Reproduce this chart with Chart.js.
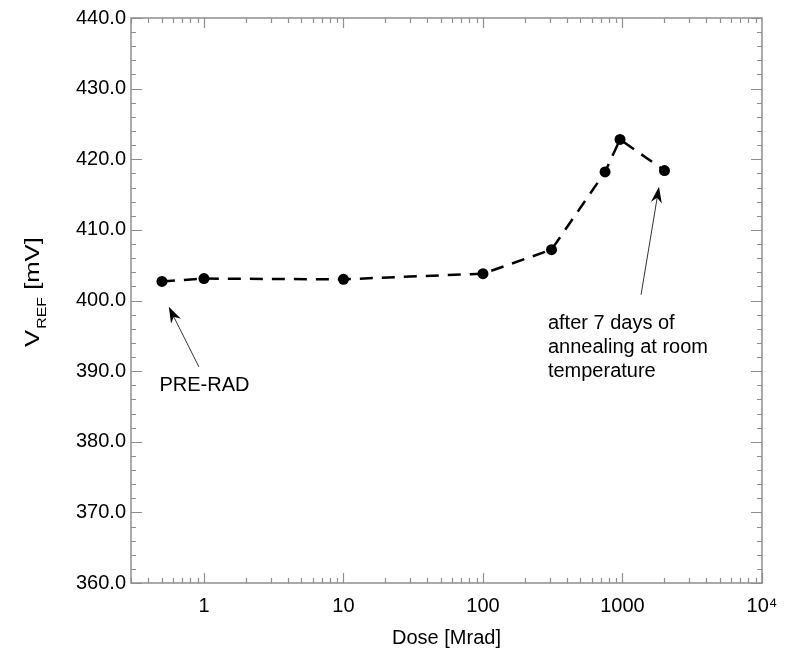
<!DOCTYPE html>
<html>
<head>
<meta charset="utf-8">
<script src="https://cdn.jsdelivr.net/npm/chart.js@4.4.1/dist/chart.umd.min.js"></script>
<style>
    html, body { margin: 0; padding: 0; background: #fff; }
    #wrap { width: 785px; height: 654px; }
</style>
</head>
<body>
<div id="wrap"><canvas id="vrefCanvas" width="785" height="654"></canvas></div>
<script>
// Datos
const doses = [0.5, 1, 10, 100, 310, 750, 960, 2000];
const vref = [402.7, 403.1, 403.0, 403.8, 407.2, 418.2, 422.8, 418.4];
const xTickValues = [1, 10, 100, 1000, 10000];
const xTickLabels = ['1', '10', '100', '1000', '10⁴'];
const yMin = 360, yMax = 440, yStep = 10, yMinorStep = 2;

const FONT = '"Liberation Sans", Arial, sans-serif';
const AXIS_GRAY = '#8e8e8e';

// Marcas hacia dentro en los cuatro lados + marco
const frameTicks = {
    id: 'frameTicks',
    afterDraw(chart) {
        const { ctx, chartArea: a, scales: { x, y } } = chart;
        ctx.save();
        ctx.strokeStyle = AXIS_GRAY;
        ctx.lineWidth = 1.5;
        ctx.strokeRect(a.left, a.top, a.right - a.left, a.bottom - a.top);
        ctx.lineWidth = 1.2;
        ctx.beginPath();
        // eje y
        for (let v = yMin; v <= yMax; v += yMinorStep) {
            const py = Math.round(y.getPixelForValue(v)) + 0.5;
            const len = (v % yStep === 0) ? 11 : 5;
            ctx.moveTo(a.left, py); ctx.lineTo(a.left + len, py);
            ctx.moveTo(a.right, py); ctx.lineTo(a.right - len, py);
        }
        // eje x (log)
        for (let dec = 0.1; dec <= 1000; dec *= 10) {
            for (let m = 1; m <= 9; m++) {
                const v = dec * m;
                if (v < x.min - 1e-9 || v > x.max) continue;
                const px = Math.round(x.getPixelForValue(v)) + 0.5;
                const len = (m === 1) ? 10 : 5;
                ctx.moveTo(px, a.bottom); ctx.lineTo(px, a.bottom - len);
                ctx.moveTo(px, a.top); ctx.lineTo(px, a.top + len);
            }
        }
        const pEnd = Math.round(x.getPixelForValue(10000)) + 0.5;
        ctx.moveTo(pEnd, a.bottom); ctx.lineTo(pEnd, a.bottom - 10);
        ctx.stroke();
        ctx.restore();
    }
};

// Titulo del eje y con subindice
const yTitle = {
    id: 'yTitle',
    afterDraw(chart) {
        const { ctx } = chart;
        ctx.save();
        ctx.translate(39, 347);
        ctx.rotate(-Math.PI / 2);
        ctx.scale(1.22, 1);
        ctx.fillStyle = '#000';
        ctx.textBaseline = 'alphabetic';
        ctx.textAlign = 'left';
        ctx.font = '21px ' + FONT;
        ctx.fillText('V', 0, 0);
        let w = ctx.measureText('V').width;
        ctx.font = '13px ' + FONT;
        ctx.fillText('REF', w + 1, 7);
        w += ctx.measureText('REF').width + 1;
        ctx.font = '21px ' + FONT;
        ctx.fillText(' [mV]', w, 0);
        ctx.restore();
    }
};

// Notas con flechas
function drawArrow(ctx, x1, y1, x2, y2) {
    const ang = Math.atan2(y2 - y1, x2 - x1);
    const L = 16, W = 5.5;
    ctx.strokeStyle = '#333';
    ctx.lineWidth = 1;
    ctx.beginPath();
    ctx.moveTo(x1, y1);
    ctx.lineTo(x2 - Math.cos(ang) * 8, y2 - Math.sin(ang) * 8);
    ctx.stroke();
    ctx.save();
    ctx.translate(x2, y2);
    ctx.rotate(ang);
    ctx.fillStyle = '#000';
    ctx.beginPath();
    ctx.moveTo(0, 0);
    ctx.lineTo(-L, -W);
    ctx.lineTo(-L * 0.7, 0);
    ctx.lineTo(-L, W);
    ctx.closePath();
    ctx.fill();
    ctx.restore();
}

const notes = {
    id: 'notes',
    afterDraw(chart) {
        const { ctx, scales: { x, y } } = chart;
        ctx.save();
        drawArrow(ctx, x.getPixelForValue(0.92), y.getPixelForValue(390.6),
                       x.getPixelForValue(0.56), y.getPixelForValue(399.1));
        drawArrow(ctx, x.getPixelForValue(1358), y.getPixelForValue(400.8),
                       x.getPixelForValue(1827), y.getPixelForValue(416.1));
        ctx.fillStyle = '#000';
        ctx.font = '20px ' + FONT;
        ctx.textAlign = 'left';
        ctx.textBaseline = 'middle';
        ctx.fillText('PRE-RAD', x.getPixelForValue(0.48), y.getPixelForValue(387.9));
        const lines = ['after 7 days of', 'annealing at room', 'temperature'];
        const ys = [396.8, 393.4, 390.0];
        lines.forEach((t, i) => ctx.fillText(t, x.getPixelForValue(292), y.getPixelForValue(ys[i])));
        ctx.restore();
    }
};

new Chart(document.getElementById('vrefCanvas'), {
    type: 'line',
    data: {
        datasets: [{
            data: doses.map((d, i) => ({ x: d, y: vref[i] })),
            borderColor: '#000',
            backgroundColor: '#000',
            borderWidth: 2.5,
            borderDash: [13, 9],
            tension: 0,
            fill: false,
            pointRadius: 5.5,
            pointBackgroundColor: '#000',
            pointBorderWidth: 0
        }]
    },
    options: {
        responsive: false,
        animation: false,
        layout: { padding: { top: 18, right: 23, left: 0, bottom: 0 } },
        plugins: { legend: { display: false }, tooltip: { enabled: false } },
        scales: {
            x: {
                type: 'logarithmic',
                min: 0.3,
                max: 10000,
                grid: { display: false },
                border: { display: false },
                afterBuildTicks: s => { s.ticks = xTickValues.map(v => ({ value: v })); },
                afterFit: s => { s.height = 71; },
                ticks: {
                    color: '#000',
                    font: { size: 20, family: FONT },
                    padding: 3,
                    maxRotation: 0,
                    autoSkip: false,
                    callback: (v) => xTickLabels[xTickValues.indexOf(v)]
                },
                title: {
                    display: true,
                    text: 'Dose [Mrad]',
                    color: '#000',
                    font: { size: 20, family: FONT },
                    padding: { top: 0, bottom: 4 }
                }
            },
            y: {
                min: yMin,
                max: yMax,
                grid: { display: false },
                border: { display: false },
                afterFit: s => { s.width = 131; },
                ticks: {
                    stepSize: yStep,
                    color: '#000',
                    font: { size: 20, family: FONT },
                    padding: -3,
                    callback: v => v.toFixed(1)
                }
            }
        }
    },
    plugins: [frameTicks, yTitle, notes]
});
</script>
</body>
</html>
